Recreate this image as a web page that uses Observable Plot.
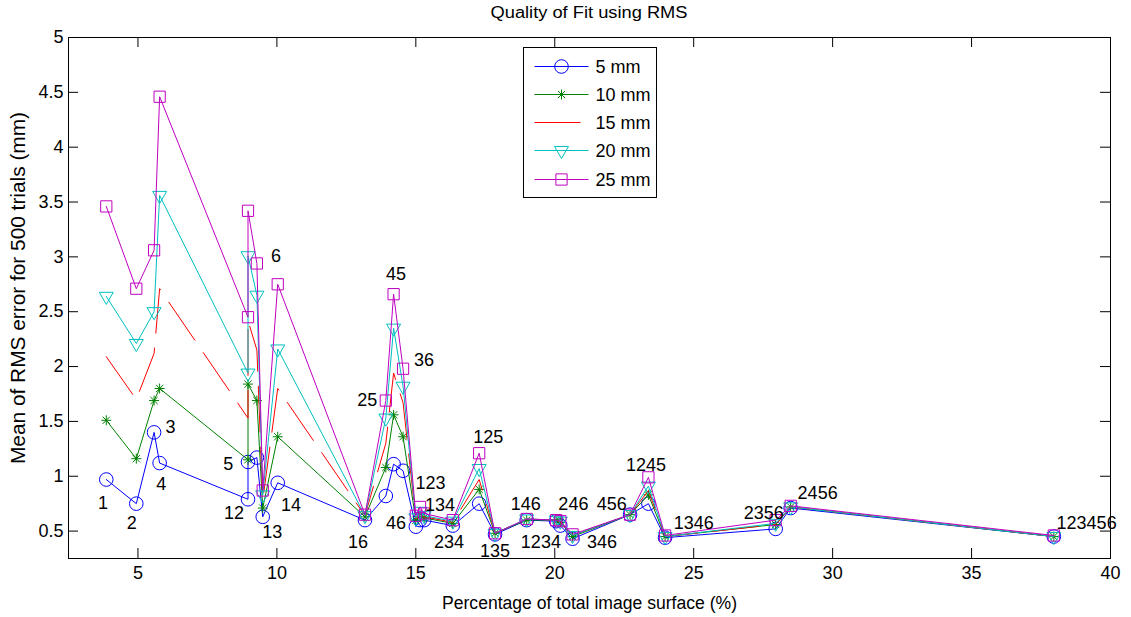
<!DOCTYPE html>
<html><head><meta charset="utf-8">
<script src="https://cdn.jsdelivr.net/npm/d3@7"></script>
<script src="https://cdn.jsdelivr.net/npm/@observablehq/plot@0.6"></script>
<style>
body{margin:0;background:#fff;font-family:"Liberation Sans",Arial,sans-serif;}
#title{height:22px;position:relative;width:1131px;}
#title span{position:absolute;left:589px;top:5px;font-size:16px;white-space:nowrap;line-height:1;display:inline-block;transform-origin:50% 50%;}
#chart svg{display:block;overflow:visible;}
</style></head><body>
<div id="title"><span id="tt">Quality of Fit using RMS</span></div>
<div id="chart"></div>
<script>
// ---- data ----
const combos = ["1","2","3","4","12","5","6","13","14","16","25","45","36","46","123","134","234","125","135","146","1234","246","346","456","1245","1346","2356","2456","123456"];
const surface = [3.86,4.94,5.58,5.78,8.96,8.96,9.28,9.49,10.03,13.17,13.92,14.20,14.54,15.00,15.15,15.30,16.33,17.28,17.85,18.99,20.05,20.20,20.64,22.71,23.37,23.97,27.95,28.49,37.96];
const rms5mm  = [0.97,0.75,1.40,1.12,0.79,1.13,1.17,0.63,0.94,0.60,0.82,1.11,1.05,0.54,0.60,0.60,0.55,0.75,0.47,0.60,0.59,0.55,0.43,0.65,0.75,0.44,0.52,0.71,0.45];
const rms10mm = [1.51,1.16,1.69,1.80,1.15,1.84,1.69,0.71,1.36,0.63,1.08,1.56,1.36,0.60,0.63,0.62,0.57,0.88,0.48,0.60,0.60,0.58,0.45,0.65,0.83,0.45,0.56,0.72,0.45];
const rms15mm = [2.09,1.70,2.12,2.71,1.53,2.42,2.15,0.78,1.80,0.64,1.30,1.94,1.67,0.61,0.66,0.63,0.58,0.97,0.48,0.61,0.60,0.58,0.46,0.65,0.87,0.45,0.56,0.72,0.45];
const rms20mm = [2.64,2.21,2.50,3.56,1.94,3.01,2.65,0.83,2.16,0.64,1.53,2.35,1.82,0.62,0.68,0.64,0.59,1.07,0.48,0.61,0.60,0.59,0.46,0.65,0.91,0.45,0.57,0.72,0.45];
const rms25mm = [3.46,2.71,3.06,4.46,2.45,3.42,2.94,0.87,2.75,0.65,1.69,2.66,1.98,0.64,0.72,0.66,0.60,1.21,0.48,0.61,0.60,0.59,0.47,0.65,0.99,0.46,0.60,0.73,0.46];
// text anchors of the combination labels (data coordinates)
const labelX = [3.74,4.78,6.17,5.84,8.46,8.25,9.97,9.83,10.51,12.92,13.25,14.29,15.29,14.29,15.53,15.87,16.19,17.61,17.85,18.96,19.50,20.67,21.70,22.05,23.28,25.00,27.52,29.46,39.14];
const labelY = [0.753,0.571,1.451,0.929,0.665,1.111,3.005,0.492,0.738,0.401,1.694,2.842,2.058,0.574,0.938,0.738,0.401,1.357,0.319,0.747,0.401,0.747,0.401,0.747,1.102,0.574,0.665,0.847,0.574];
const seriesNames = ["5 mm","10 mm","15 mm","20 mm","25 mm"];
const xTicks = [5,10,15,20,25,30,35,40];
const yTicks = [0.5,1,1.5,2,2.5,3,3.5,4,4.5,5];
const titleText = "Quality of Fit using RMS";
const xLabel = "Percentage of total image surface (%)";
const yLabel = "Mean of RMS error for 500 trials (mm)";

// ---- styles ----
const seriesValues = [rms5mm, rms10mm, rms15mm, rms20mm, rms25mm];
const seriesColors = ["#0000ff","#008000","#ff0000","#00bfbf","#bf00bf"];
const circleSym = {draw(c, s){const r=Math.sqrt(s/Math.PI); c.moveTo(r,0); c.arc(0,0,r,0,2*Math.PI); c.closePath();}};
const starSym = {draw(c, s){const r=Math.sqrt(s/Math.PI), d=r*0.72;
  c.moveTo(-r,0);c.lineTo(r,0);c.moveTo(0,-r);c.lineTo(0,r);
  c.moveTo(-d,-d);c.lineTo(d,d);c.moveTo(-d,d);c.lineTo(d,-d);}};
const triDownSym = {draw(c, s){const r=Math.sqrt(s/Math.PI);
  c.moveTo(-r,-0.58*r);c.lineTo(r,-0.58*r);c.lineTo(0,1.15*r);c.closePath();}};
const squareSym = {draw(c, s){const r=Math.sqrt(s/Math.PI), h=r*0.85;
  c.moveTo(-h,-h);c.lineTo(h,-h);c.lineTo(h,h);c.lineTo(-h,h);c.closePath();}};
const seriesSymbols = [circleSym, starSym, null, triDownSym, squareSym];
const seriesR = [6.8, 5, 0, 7, 6.6];
const dash = "46,15";

const W = 1131, H = 595, mL = 68, mR = 21, mT = 15, mB = 59;
const FW = W - mL - mR, FH = H - mT - mB;
const FONT = "'Liberation Sans', Arial, sans-serif";

document.getElementById("tt").textContent = titleText;

const marks = [
  Plot.frame({stroke: "black", strokeWidth: 1}),
  Plot.tickX(xTicks, {x: d => d, stroke: "black", insetTop: FH - 10}),
  Plot.tickX(xTicks, {x: d => d, stroke: "black", insetBottom: FH - 10}),
  Plot.tickY(yTicks, {y: d => d, stroke: "black", insetRight: FW - 10}),
  Plot.tickY(yTicks, {y: d => d, stroke: "black", insetLeft: FW - 10}),
  Plot.axisX(xTicks, {tickSize: 0, tickPadding: 8, fontSize: 18, label: null}),
  Plot.axisY(yTicks, {tickSize: 0, tickPadding: 5, fontSize: 18, label: null, tickFormat: d => String(d)}),
  Plot.text([xLabel], {frameAnchor: "bottom", dy: 45, fontSize: 18, lineAnchor: "middle", textAnchor: "middle", text: d => d}),
  Plot.text([yLabel], {frameAnchor: "left", dx: -50, dy: -10, rotate: -90, fontSize: 20, lineAnchor: "middle", textAnchor: "middle", text: d => d})
];
seriesValues.forEach((vals, k) => {
  const rows = surface.map((x, i) => ({x, y: vals[i]}));
  marks.push(Plot.line(rows, {x: "x", y: "y", stroke: seriesColors[k], strokeWidth: 1, strokeDasharray: k === 2 ? dash : null}));
  if (seriesSymbols[k]) marks.push(Plot.dot(rows, {x: "x", y: "y", symbol: seriesSymbols[k], r: seriesR[k], stroke: seriesColors[k], fill: "none", strokeWidth: 1}));
});
marks.push(Plot.text(combos, {x: (d, i) => labelX[i], y: (d, i) => labelY[i], text: d => d, fontSize: 18, fill: "black", lineAnchor: "middle", textAnchor: "middle"}));

const svg = Plot.plot({
  width: W, height: H, marginLeft: mL, marginRight: mR, marginTop: mT, marginBottom: mB,
  x: {type: "linear", domain: [2.5, 40]},
  y: {type: "linear", domain: [0.25, 5]},
  style: {fontFamily: FONT, fontSize: "18px", background: "white", color: "black", overflow: "visible"},
  marks
});
document.getElementById("chart").appendChild(svg);

// text widths like the reference
svg.querySelectorAll("text").forEach(t => {
  if (t.textContent === xLabel) { t.setAttribute("textLength", 295); t.setAttribute("lengthAdjust", "spacingAndGlyphs"); }
  if (t.textContent === yLabel) { t.setAttribute("textLength", 352); t.setAttribute("lengthAdjust", "spacingAndGlyphs"); }
});
// title width
const tt = document.getElementById("tt");
const tw = tt.getBoundingClientRect().width;
tt.style.transform = `translateX(-50%) scaleX(${197 / tw})`;

// legend (drawn over the data, as in the reference)
const g = d3.select(svg).append("g").attr("text-anchor", "start");
const lx = 523.5, ly = 25.5, lw = 133, lh = 150;
g.append("rect").attr("x", lx).attr("y", ly).attr("width", lw).attr("height", lh).attr("fill", "white").attr("stroke", "black");
seriesNames.forEach((name, k) => {
  const yy = Math.round(ly + 18 + k * 28.3) + 0.5;
  g.append("line").attr("x1", lx + 11).attr("x2", lx + 65).attr("y1", yy).attr("y2", yy)
    .attr("stroke", seriesColors[k]).attr("stroke-width", 1).attr("stroke-dasharray", k === 2 ? dash : null);
  if (seriesSymbols[k]) g.append("path").attr("transform", `translate(${lx + 38},${yy})`)
    .attr("d", d3.symbol(seriesSymbols[k], seriesR[k] * seriesR[k] * Math.PI)()).attr("fill", "none").attr("stroke", seriesColors[k]);
  g.append("text").attr("x", lx + 72).attr("y", yy).attr("dy", "0.35em").attr("font-size", 18)
    .attr("text-anchor", "start").attr("fill", "black").text(name);
});
</script>
</body></html>
